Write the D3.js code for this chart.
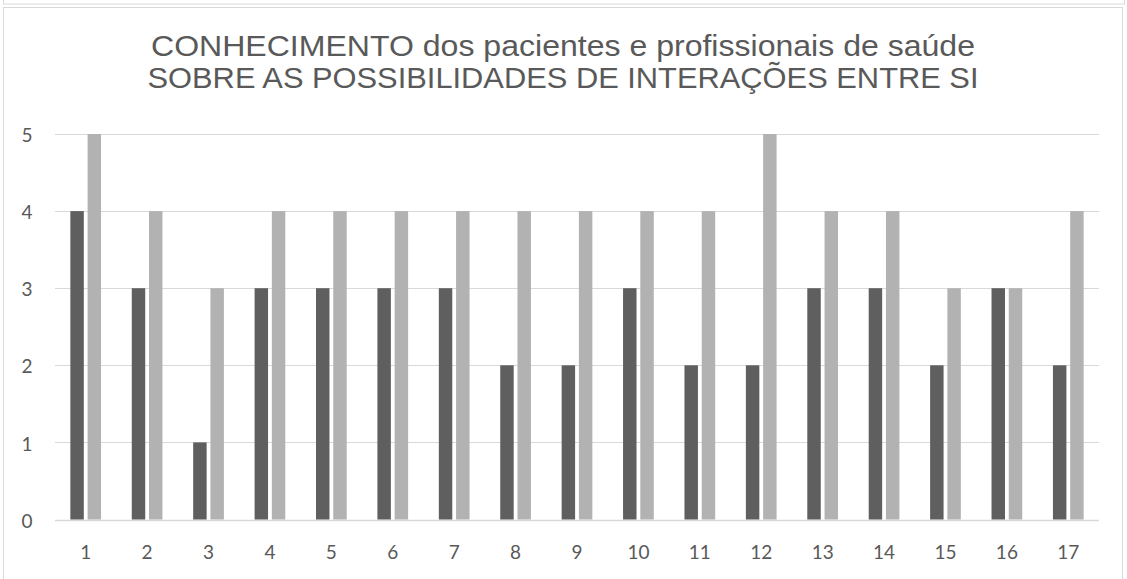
<!DOCTYPE html>
<html>
<head>
<meta charset="utf-8">
<script src="https://cdn.jsdelivr.net/npm/d3@7"></script>
<style>
  html, body { margin: 0; padding: 0; background: #ffffff; }
  svg { display: block; }
</style>
</head>
<body>
<svg id="chart" width="1127" height="579"></svg>
<script>
// Categories and the two series of the chart
const categories = ["1","2","3","4","5","6","7","8","9","10","11","12","13","14","15","16","17"];
const pacientes = [4, 3, 1, 3, 3, 3, 3, 2, 2, 3, 2, 2, 3, 3, 2, 3, 2];
const profissionais = [5, 4, 3, 4, 4, 4, 4, 4, 4, 4, 4, 5, 4, 4, 3, 3, 4];
const yTicks = [0, 1, 2, 3, 4, 5];
const titleLines = [
  "CONHECIMENTO dos pacientes e profissionais de saúde",
  "SOBRE AS POSSIBILIDADES DE INTERAÇÕES ENTRE SI"
];

const seriesNames = ["pacientes", "profissionais"];
const seriesColors = ["#5f5f5f", "#b2b2b2"];
const rows = categories.map((c, i) => ({ cat: c, values: [pacientes[i], profissionais[i]] }));

const svg = d3.select("#chart");
const plot = { left: 55, right: 1099, top: 134, bottom: 519.5 };

// Outer frames
svg.append("rect")
  .attr("x", 3.5).attr("y", -10).attr("width", 1121).attr("height", 14)
  .attr("fill", "none").attr("stroke", "#d9d9d9").attr("stroke-width", 1);
svg.append("rect")
  .attr("x", 3.5).attr("y", 7.5).attr("width", 1119).attr("height", 600)
  .attr("fill", "#ffffff").attr("stroke", "#d9d9d9").attr("stroke-width", 1);

// Title: two lines, each stretched to its set width
const titleWidths = [824, 831];
titleLines.forEach((t, i) => {
  svg.append("text")
    .attr("x", 563).attr("y", 56 + i * 31.5)
    .attr("text-anchor", "middle")
    .attr("font-family", "'Liberation Sans', Arial, sans-serif")
    .attr("font-size", 29.5)
    .attr("fill", "#595959")
    .attr("textLength", titleWidths[i])
    .attr("lengthAdjust", "spacingAndGlyphs")
    .text(t);
});

// Scales
const x = d3.scaleBand().domain(categories).range([plot.left, plot.right])
  .paddingInner(0.5).paddingOuter(0.25);
const xInner = d3.scaleBand().domain(seriesNames).range([0, x.bandwidth()]).paddingInner(0.22);
const y = d3.scaleLinear().domain([0, 5]).range([plot.bottom, plot.top]);

// Gridlines
svg.append("g")
  .selectAll("line").data(yTicks).join("line")
  .attr("x1", plot.left).attr("x2", plot.right)
  .attr("y1", d => Math.round(y(d)) + 0.5).attr("y2", d => Math.round(y(d)) + 0.5)
  .attr("stroke", "#d9d9d9")
  .attr("stroke-width", d => d === 0 ? 1.5 : 1);

// Y axis labels
const yAxis = d3.axisLeft(y).tickValues(yTicks).tickSize(0).tickPadding(0).tickFormat(d3.format("d"));
const yg = svg.append("g").attr("transform", `translate(27,0)`).call(yAxis);
yg.select(".domain").remove();
yg.selectAll("text")
  .attr("font-family", "Lato, 'Open Sans', sans-serif")
  .attr("font-size", 19)
  .attr("fill", "#595959")
  .attr("text-anchor", "middle")
  .attr("dy", "0.4em");

// X axis labels
const xAxis = d3.axisBottom(x).tickSize(0).tickPadding(0);
const xg = svg.append("g").attr("transform", `translate(0,${plot.bottom + 26})`).call(xAxis);
xg.select(".domain").remove();
xg.selectAll("text")
  .attr("font-family", "Lato, 'Open Sans', sans-serif")
  .attr("font-size", 19)
  .attr("fill", "#595959");

// Bars
const groups = svg.append("g").selectAll("g").data(rows).join("g")
  .attr("transform", d => `translate(${x(d.cat)},0)`);
groups.selectAll("rect")
  .data(d => d.values.map((v, i) => ({ key: seriesNames[i], v, i })))
  .join("rect")
  .attr("x", d => xInner(d.key))
  .attr("width", xInner.bandwidth())
  .attr("y", d => y(d.v))
  .attr("height", d => y(0) - y(d.v))
  .attr("fill", d => seriesColors[d.i]);
</script>
</body>
</html>
